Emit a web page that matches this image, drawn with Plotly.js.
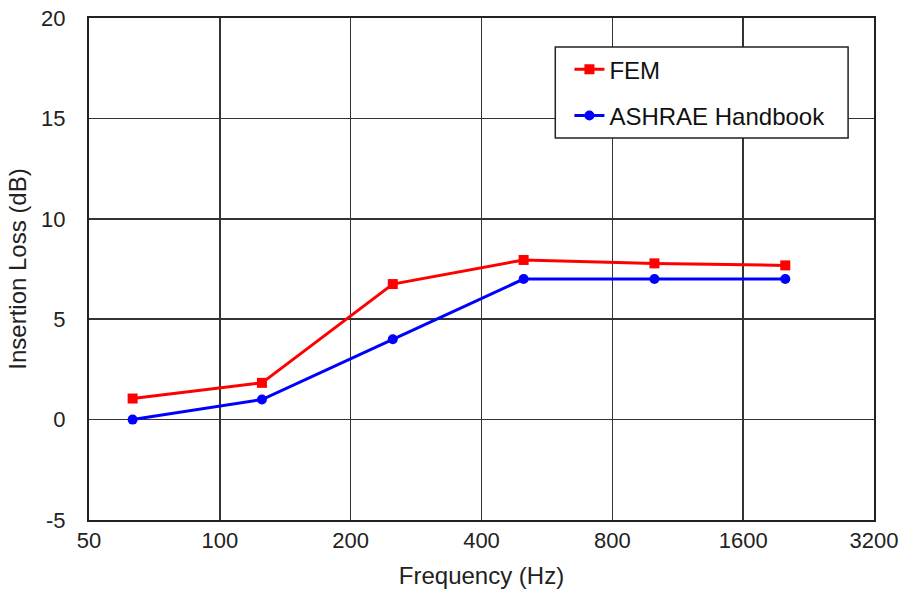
<!DOCTYPE html>
<html>
<head>
<meta charset="utf-8">
<script src="https://cdn.plot.ly/plotly-3.0.1.min.js"></script>
<style>html,body{margin:0;padding:0;background:#fff;}#chart{width:906px;height:598px;}</style>
</head>
<body>
<div id="chart"></div>
<script>
const frequencies = [63, 125, 250, 500, 1000, 2000];
const femLoss = [1.05, 1.83, 6.75, 7.95, 7.78, 7.68];
const ashraeLoss = [0, 1, 4, 7, 7, 7];
const xTickVals = [50, 100, 200, 400, 800, 1600, 3200];
const xTickText = ['50', '100', '200', '400', '800', '1600', '3200'];
const yTickVals = [-5, 0, 5, 10, 15, 20];
const yTickText = ['-5', '0', '5', '10', '15', '20'];

const FONT = '"Liberation Sans", Arial, sans-serif';

const traces = [
  {
    x: frequencies, y: femLoss, name: 'FEM', type: 'scatter', mode: 'lines+markers',
    legendgroup: 'a',
    line: {color: '#ff0000', width: 3},
    marker: {symbol: 'square', size: 10, color: '#ff0000'}
  },
  {
    x: frequencies, y: ashraeLoss, name: 'ASHRAE Handbook', type: 'scatter', mode: 'lines+markers',
    legendgroup: 'b',
    line: {color: '#0000ff', width: 3},
    marker: {symbol: 'circle', size: 10, color: '#0000ff'}
  }
];

const layout = {
  width: 906, height: 598,
  margin: {l: 89, r: 32, t: 18, b: 78},
  paper_bgcolor: '#ffffff', plot_bgcolor: '#ffffff',
  font: {family: FONT, size: 22, color: '#222'},
  showlegend: true,
  legend: {
    x: 0.612, y: 0.942, xanchor: 'left', yanchor: 'top',
    bgcolor: 'rgba(0,0,0,0)', borderwidth: 0,
    font: {family: FONT, size: 24, color: '#111'},
    tracegroupgap: 12
  },
  shapes: [
    {type: 'rect', xref: 'paper', yref: 'paper', x0: 0.594, x1: 0.967, y0: 0.761, y1: 0.942,
     line: {color: '#222', width: 1.5}, fillcolor: '#ffffff', layer: 'above'}
  ],
  xaxis: {
    type: 'log',
    range: [Math.log10(50), Math.log10(3200)],
    tickvals: xTickVals, ticktext: xTickText,
    showgrid: true, gridcolor: '#333', gridwidth: 1.5,
    showline: true, linecolor: '#222', linewidth: 2, mirror: true,
    ticks: '', zeroline: false,
    tickfont: {family: FONT, size: 22, color: '#222'},
    title: {text: 'Frequency (Hz)', font: {family: FONT, size: 24, color: '#222'}, standoff: 15}
  },
  yaxis: {
    range: [-5, 20],
    tickvals: yTickVals, ticktext: yTickText,
    showgrid: true, gridcolor: '#333', gridwidth: 1.5,
    showline: true, linecolor: '#222', linewidth: 2, mirror: true,
    ticks: '', zeroline: false,
    ticklabelstandoff: 17,
    tickfont: {family: FONT, size: 22, color: '#222'},
    title: {text: 'Insertion Loss (dB)', font: {family: FONT, size: 24, color: '#222'}, standoff: 8}
  }
};

Plotly.newPlot('chart', traces, layout, {displayModeBar: false, staticPlot: true});
</script>
</body>
</html>
